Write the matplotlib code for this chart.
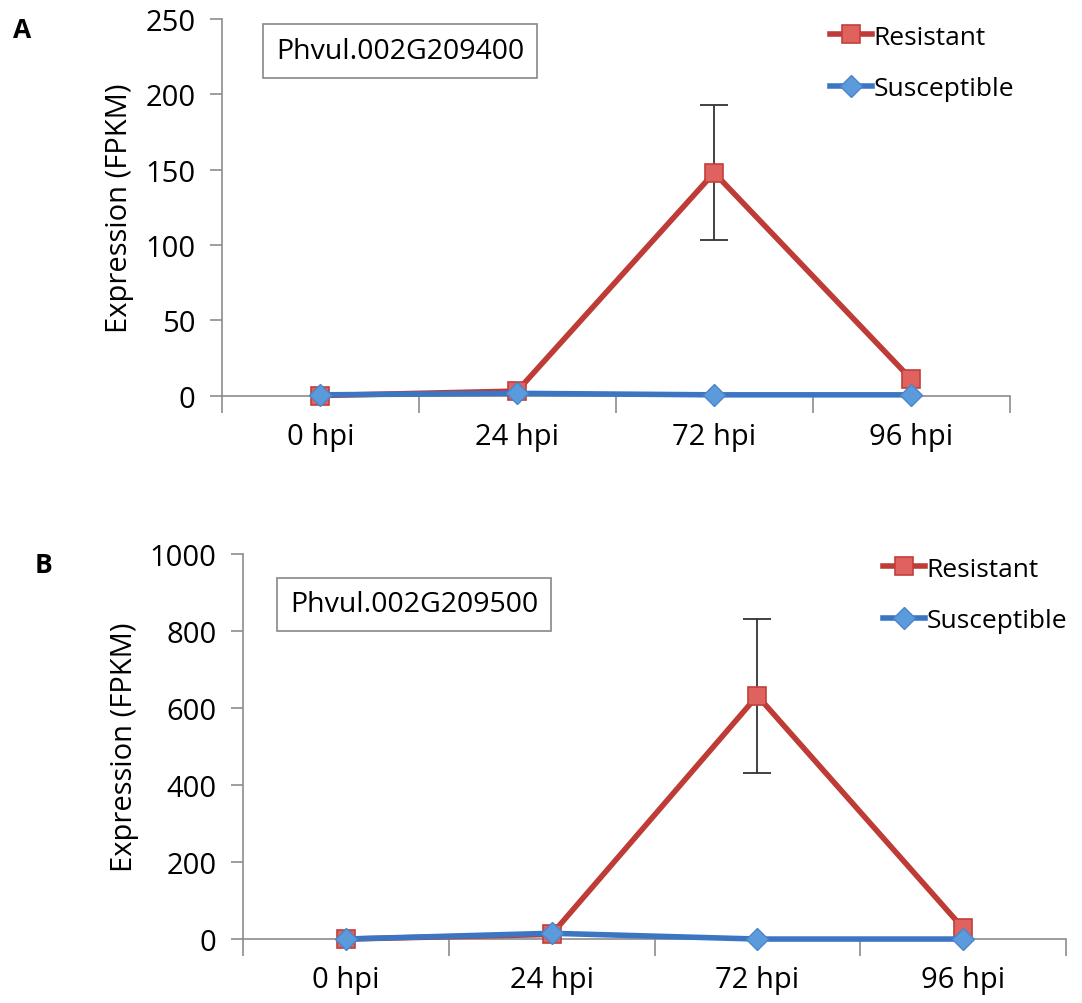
import numpy as np
import matplotlib
matplotlib.use('Agg')
import matplotlib.pyplot as plt

plt.rcParams['font.family'] = ['Open Sans', 'DejaVu Sans']

# Data
timepoints = ['0 hpi', '24 hpi', '72 hpi', '96 hpi']

gene_a = 'Phvul.002G209400'
resistant_a = [0, 3, 148, 11]
resistant_a_err = [0, 0, 45, 0]
susceptible_a = [0.5, 1.5, 0.5, 0.5]

gene_b = 'Phvul.002G209500'
resistant_b = [0, 12, 632, 28]
resistant_b_err = [0, 0, 200, 0]
susceptible_b = [0, 15, 0, 0]

RED_LINE = '#BE3B36'
RED_FACE = '#E0625E'
BLUE_LINE = '#3C76C2'
BLUE_FACE = '#5B9BDB'
AXIS_GRAY = '#8C8C8C'


def draw_panel(fig, rect, label, label_x, gene, res, res_err, sus, ymax,
               ystep, box_pos, legend_pos):
    ax = fig.add_axes(rect)
    x = np.arange(len(timepoints))

    ax.plot(x, res, color=RED_LINE, lw=4, marker='s', ms=12.5,
            mfc=RED_FACE, mec='#C0403C', mew=1.2, zorder=3,
            label='Resistant')
    err = [e if e > 0 else np.nan for e in res_err]
    ax.errorbar(x, res, yerr=err, fmt='none', ecolor='#333333',
                elinewidth=1.3, capsize=10, capthick=1.3, zorder=2)
    ax.plot(x, sus, color=BLUE_LINE, lw=4, marker='D', ms=11,
            mfc=BLUE_FACE, mec='#4A86CC', mew=1, zorder=4,
            label='Susceptible')

    ax.set_xlim(-0.5, len(timepoints) - 0.5)
    ax.set_ylim(0, ymax)
    ax.set_yticks(np.arange(0, ymax + 1, ystep))
    ax.set_xticks(x)
    ax.set_xticklabels(timepoints, fontsize=21)
    ax.set_xticks(np.arange(-0.5, len(timepoints)), minor=True)
    ax.tick_params(axis='x', which='major', length=0, pad=19)
    ax.tick_params(axis='x', which='minor', length=12, width=1.2,
                   color=AXIS_GRAY, direction='out')
    ax.tick_params(axis='y', labelsize=21, length=9, width=1.2,
                   color=AXIS_GRAY, pad=10)
    ax.set_ylabel('Expression (FPKM)', fontsize=21, labelpad=8)

    for side in ['top', 'right']:
        ax.spines[side].set_visible(False)
    for side in ['left', 'bottom']:
        ax.spines[side].set_color(AXIS_GRAY)
        ax.spines[side].set_linewidth(1.2)
    for artist in ax.lines:
        artist.set_clip_on(False)

    ax.text(box_pos[0], box_pos[1], gene, transform=fig.transFigure,
            fontsize=20.5, va='center', ha='left',
            bbox=dict(boxstyle='square,pad=0.45', fc='white',
                      ec='#888888', lw=1.2))
    fig.text(label_x, rect[1] + rect[3] - 0.01, label, fontsize=19,
             fontweight='bold', va='center', ha='left')

    ax.legend(loc='upper left', bbox_to_anchor=legend_pos,
              bbox_transform=fig.transFigure, frameon=False,
              fontsize=19, handlelength=1.6, handletextpad=0.05,
              labelspacing=1.0, borderaxespad=0)
    return ax


fig = plt.figure(figsize=(10.82, 10.04), dpi=100)

draw_panel(fig, [0.205, 0.605, 0.728, 0.375], 'A', 0.012, gene_a,
           resistant_a, resistant_a_err, susceptible_a, 250, 50,
           (0.255, 0.948), (0.757, 0.985))
draw_panel(fig, [0.2246, 0.0637, 0.7606, 0.3835], 'B', 0.032, gene_b,
           resistant_b, resistant_b_err, susceptible_b, 1000, 200,
           (0.268, 0.397), (0.806, 0.455))

fig.savefig('out.png', dpi=100, facecolor='white')
